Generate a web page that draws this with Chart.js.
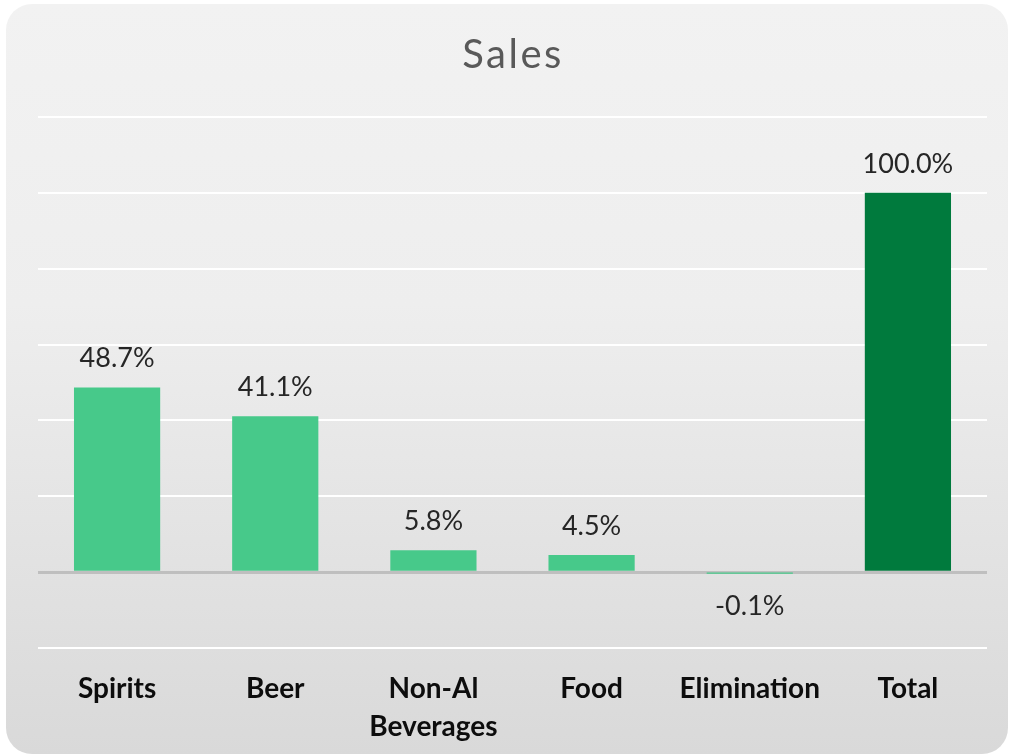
<!DOCTYPE html>
<html>
<head>
<meta charset="utf-8">
<script src="https://cdn.jsdelivr.net/npm/chart.js@4.4.0/dist/chart.umd.min.js"></script>
<style>
  html, body { margin: 0; padding: 0; background: #ffffff; }
  #card {
    position: absolute; left: 6px; top: 4px; width: 1002px; height: 750px;
    border-radius: 26px;
    background: linear-gradient(to bottom, #f2f2f2 0%, #eeeeee 40%, #d9d9d9 100%);
  }
  #wrap { position: absolute; left: 0; top: 0; width: 1010px; height: 756px; }
</style>
</head>
<body>
<div id="card"></div>
<div id="wrap"><canvas id="c" width="1010" height="756"></canvas></div>
<script>
const categories = [["Spirits"], ["Beer"], ["Non-Al", "Beverages"], ["Food"], ["Elimination"], ["Total"]];
const salesShare = [48.7, 41.1, 5.8, 4.5, -0.1, 100.0];
const valueLabels = ["48.7%", "41.1%", "5.8%", "4.5%", "-0.1%", "100.0%"];
const barColors = ["#47c98a", "#47c98a", "#47c98a", "#47c98a", "#47c98a", "#007a3d"];
const chartTitle = "Sales";

const FONT = "Lato, 'Open Sans', 'Liberation Sans', sans-serif";

const labelPlugin = {
  id: 'valueLabels',
  afterDatasetsDraw(chart) {
    const ctx = chart.ctx;
    const meta = chart.getDatasetMeta(0);
    ctx.save();
    ctx.font = "27px " + FONT;
    ctx.fillStyle = "#262626";
    ctx.textAlign = "center";
    ctx.textBaseline = "middle";
    meta.data.forEach((bar, i) => {
      const v = salesShare[i];
      const zeroY = chart.scales.y.getPixelForValue(0);
      let y;
      if (v >= 0) y = bar.y - 29;
      else y = Math.max(bar.y, zeroY) + 34;
      ctx.fillText(valueLabels[i], bar.x, y);
    });
    ctx.restore();
  },
  afterDraw(chart) {
    const ctx = chart.ctx;
    ctx.save();
    ctx.font = "40px " + FONT;
    ctx.fillStyle = "#595959";
    ctx.textAlign = "center";
    ctx.textBaseline = "alphabetic";
    if ('letterSpacing' in ctx) ctx.letterSpacing = "2.5px";
    ctx.fillText(chartTitle, 513, 68);
    ctx.restore();
  }
};

new Chart(document.getElementById('c'), {
  type: 'bar',
  data: {
    labels: categories,
    datasets: [{
      data: salesShare,
      backgroundColor: barColors,
      borderWidth: 0,
      categoryPercentage: 1.0,
      barPercentage: 0.545
    }]
  },
  options: {
    responsive: false,
    animation: false,
    layout: { padding: { left: 38, right: 23, top: 117, bottom: 0 } },
    plugins: {
      legend: { display: false },
      tooltip: { enabled: false },
      title: { display: false }
    },
    scales: {
      x: {
        grid: { display: false, drawTicks: false },
        border: { display: false },
        ticks: {
          color: "#0d0d0d",
          font: { family: FONT, size: 28, weight: 'bold', lineHeight: 1.36 },
          padding: 22,
          maxRotation: 0,
          autoSkip: false
        },
        afterFit(scale) { scale.height = 108; }
      },
      y: {
        min: -20, max: 120,
        ticks: { display: false, stepSize: 20 },
        border: { display: false },
        grid: {
          drawTicks: false,
          color: (c) => c.tick && c.tick.value === 0 ? "#bfbfbf" : "#ffffff",
          lineWidth: (c) => c.tick && c.tick.value === 0 ? 3 : 2
        },
        afterFit(scale) { scale.width = 0; }
      }
    }
  },
  plugins: [labelPlugin]
});
</script>
</body>
</html>
